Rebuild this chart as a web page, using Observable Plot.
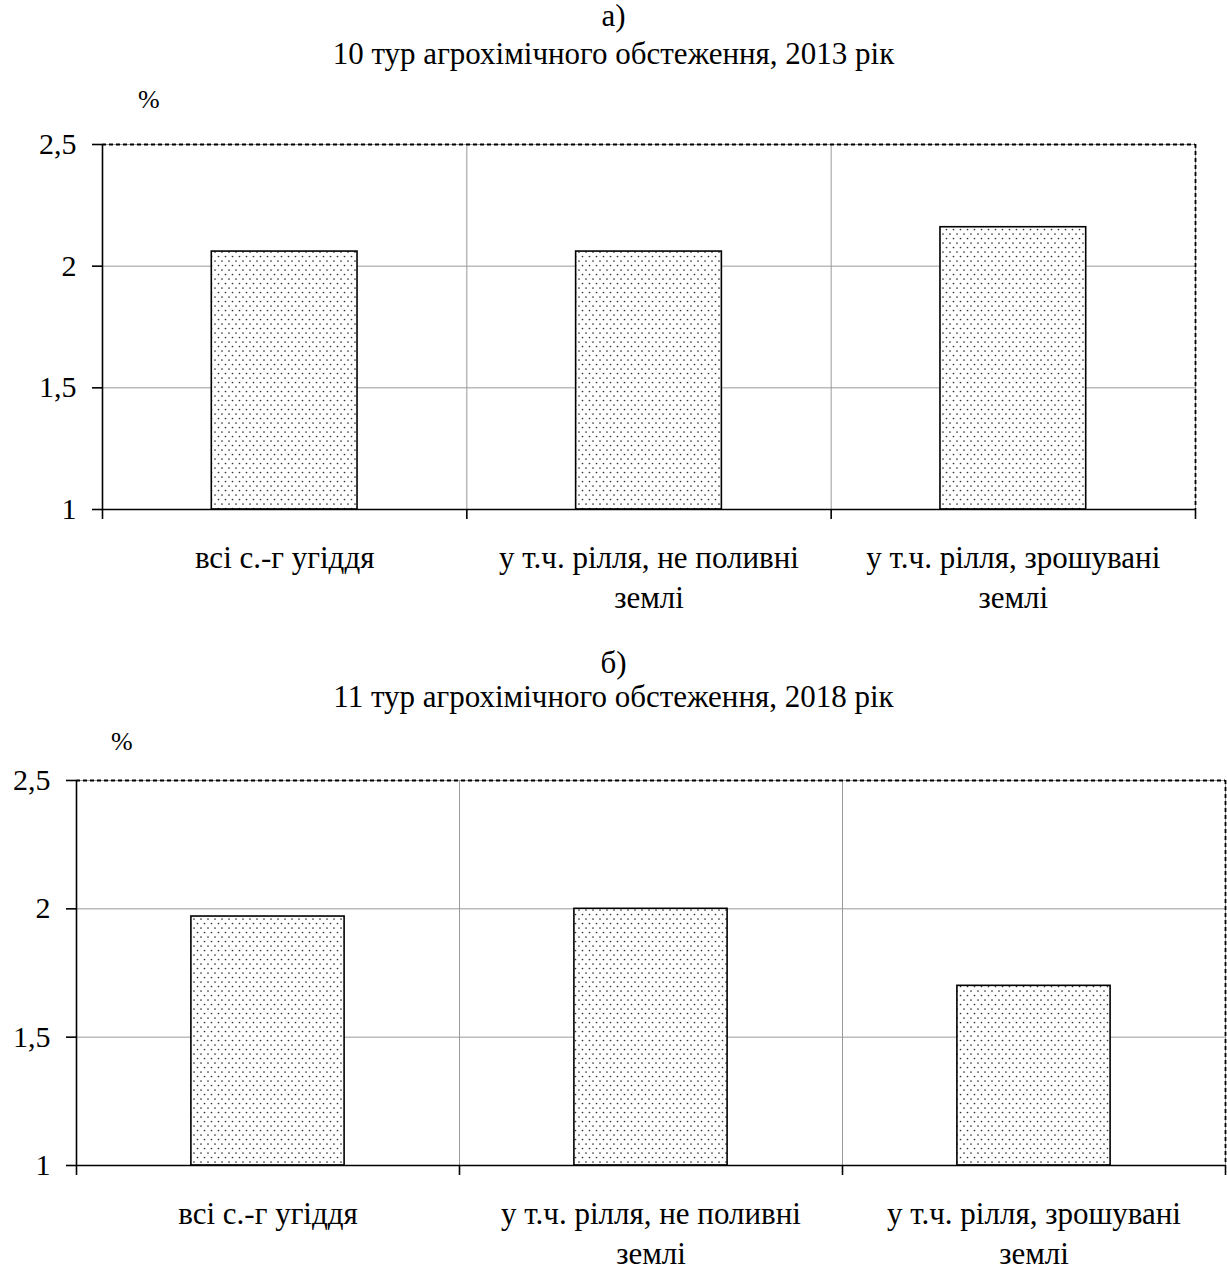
<!DOCTYPE html>
<html>
<head>
<meta charset="utf-8">
<script src="https://cdn.jsdelivr.net/npm/d3@7"></script>
<script src="https://cdn.jsdelivr.net/npm/@observablehq/plot@0.6"></script>
<style>
  html, body { margin: 0; padding: 0; background: #fff; }
  body { width: 1227px; height: 1274px; position: relative; overflow: hidden; font-family: "Liberation Serif", "Times New Roman", serif; color: #000; }
  .t { position: absolute; left: 0; width: 1227px; text-align: center; white-space: nowrap; }
  .abs { position: absolute; white-space: nowrap; }
  .chart { position: absolute; left: 0; }
</style>
</head>
<body>
<svg width="0" height="0" style="position:absolute">
  <defs>
    <pattern id="dots" width="7" height="9" patternUnits="userSpaceOnUse">
      <rect width="7" height="9" fill="#fff"/>
      <circle cx="1.5" cy="1.5" r="0.85" fill="#333"/>
      <circle cx="5" cy="6" r="0.85" fill="#333"/>
    </pattern>
  </defs>
</svg>

<div class="t" id="titleA" style="top:0px;font-size:31px;line-height:32px;">а)</div>
<div class="t" id="subA" style="top:38px;font-size:31px;line-height:32px;">10 тур агрохімічного обстеження, 2013 рік</div>
<div class="abs" style="left:138px;top:86px;font-size:26px;line-height:28px;">%</div>
<div class="chart" id="chartA" style="top:120px;"></div>

<div class="t" id="titleB" style="top:647px;font-size:31px;line-height:32px;">б)</div>
<div class="t" id="subB" style="top:681px;font-size:31px;line-height:32px;">11 тур агрохімічного обстеження, 2018 рік</div>
<div class="abs" style="left:111px;top:728px;font-size:26px;line-height:28px;">%</div>
<div class="chart" id="chartB" style="top:760px;"></div>

<script>
// ---- data ----
const categories = [
  "всі с.-г угіддя",
  "у т.ч. рілля, не поливні\nземлі",
  "у т.ч. рілля, зрошувані\nземлі"
];
const values2013 = [2.06, 2.06, 2.16];
const values2018 = [1.97, 2.00, 1.70];
const yTicks = [1, 1.5, 2, 2.5];

function makeChart(values, opts) {
  const n = categories.length;
  const data = categories.map((c, i) => ({cat: c, i, value: values[i]}));
  const bounds = d3.range(n + 1);
  const centers = d3.range(n).map(i => i + 0.5);
  const yMin = yTicks[0], yMax = yTicks[yTicks.length - 1];
  const fmt = d => String(d).replace(".", ",");
  return Plot.plot({
    width: 1227,
    height: opts.height,
    marginLeft: opts.marginLeft,
    marginRight: opts.marginRight,
    marginTop: opts.marginTop,
    marginBottom: opts.marginBottom,
    style: {fontFamily: "'Liberation Serif', 'Times New Roman', serif", background: "transparent", overflow: "visible"},
    x: {domain: [0, n], axis: null},
    y: {domain: [yMin, yMax], axis: null},
    marks: [
      // grid
      Plot.gridX(bounds, {stroke: "#999", strokeOpacity: 1, strokeWidth: 1}),
      Plot.gridY(yTicks, {stroke: "#999", strokeOpacity: 1, strokeWidth: 1}),
      // bars
      Plot.rectY(data, {
        x1: d => d.i + 0.3, x2: d => d.i + 0.7,
        y1: () => yMin, y2: "value",
        fill: "url(#dots)", stroke: "#000", strokeWidth: 1.6
      }),
      // frame
      Plot.ruleY([yMax], {stroke: "#000", strokeWidth: 1.8, strokeDasharray: "4,3"}),
      Plot.ruleX([n], {stroke: "#000", strokeWidth: 1.8, strokeDasharray: "4,3"}),
      Plot.ruleX([0], {stroke: "#000", strokeWidth: 1.6}),
      Plot.ruleY([yMin], {stroke: "#000", strokeWidth: 1.6}),
      // y axis
      Plot.axisY({
        ticks: yTicks, tickFormat: fmt, tickSize: 10, tickPadding: 16, label: null,
        fontSize: 30, stroke: "#000", strokeWidth: 1.6, fill: "#000"
      }),
      // x boundary ticks
      Plot.axisX({ticks: bounds, tickFormat: () => "", tickSize: 10, label: null, stroke: "#000", strokeWidth: 1.6}),
      // x labels
      Plot.axisX({
        ticks: centers, tickFormat: d => categories[Math.floor(d)], tickSize: 0, label: null,
        tickPadding: 29, fontSize: 31, lineHeight: 1.32, fill: "#000"
      })
    ]
  });
}

document.getElementById("chartA").appendChild(makeChart(values2013, {
  height: 500, marginLeft: 102, marginRight: 32, marginTop: 24, marginBottom: 111
}));
document.getElementById("chartB").appendChild(makeChart(values2018, {
  height: 514, marginLeft: 76, marginRight: 2, marginTop: 20, marginBottom: 109
}));
</script>
</body>
</html>
